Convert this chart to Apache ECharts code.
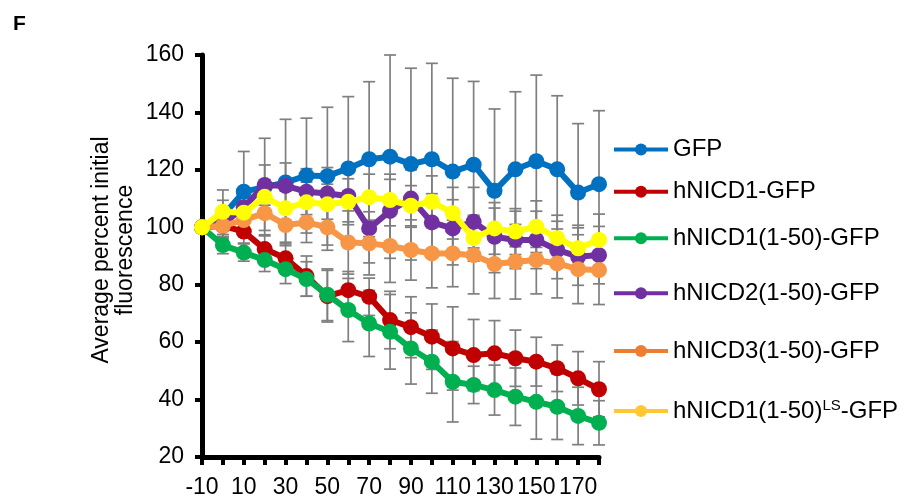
<!DOCTYPE html>
<html><head><meta charset="utf-8">
<script src="https://cdn.jsdelivr.net/npm/echarts@6/dist/echarts.min.js"></script>
<style>html,body{margin:0;padding:0;background:#fff}#c{width:904px;height:502px}</style>
</head><body><div id="c"></div>
<script>
const categories = ['-10','0','10','20','30','40','50','60','70','80','90','100','110','120','130','140','150','160','170','180'];
const yTicks = [20, 40, 60, 80, 100, 120, 140, 160];
const seriesNames = ['GFP','hNICD1-GFP','hNICD1(1-50)-GFP','hNICD2(1-50)-GFP','hNICD3(1-50)-GFP','hNICD1(1-50)LS-GFP'];

const gfp      = [100, 104, 112.4, 114, 115.6, 118, 117.8, 120.5, 123.7, 124.6, 122, 123.7, 119.4, 121.8, 112.7, 120.2, 123, 120.2, 112.1, 115];
const gfpErr   = [0, 9, 14, 17, 22, 20, 24, 25, 27, 35.4, 33.4, 33.4, 32.5, 29, 28.5, 27, 30, 25.6, 24, 25.6];
const nicd1    = [100, 100.5, 98.5, 92.4, 89.2, 83, 76, 78.1, 75.8, 67.7, 65.2, 61.9, 57.8, 55.5, 56.1, 54.4, 53.2, 50.9, 47.4, 43.6];
const nicd1Err = [0, 3, 4, 5, 5, 7, 9, 6.5, 6.5, 10, 10.6, 11.4, 14.5, 12.4, 11.4, 9.8, 8.5, 8.1, 9.3, 9.6];
const nicd1s   = [100, 93.8, 91.2, 88.6, 85.4, 82, 76.5, 71.2, 66.5, 63.6, 57.8, 53.2, 46.2, 45.1, 43.3, 41, 39.2, 37.5, 34.3, 31.9];
const nicd1sErr= [0, 3, 3, 4, 5, 6, 9, 11, 11.5, 13, 12.4, 11, 14, 6.5, 8.7, 10, 13, 11.4, 10, 7.7];
const nicd2    = [100, 101, 107, 114.7, 114.4, 112.4, 111.8, 110.9, 99.6, 105.7, 110, 101.7, 99.6, 101.9, 96.7, 95.6, 95.6, 92.1, 89.8, 90.3];
const nicd2Err = [0, 5, 6, 7, 8, 8, 9, 9, 12, 11, 10, 10, 10, 12, 10, 10, 10, 10, 10, 10];
const nicd3    = [100, 100.5, 102.5, 104.9, 100.8, 101.7, 100, 94.7, 94.4, 93.5, 92.1, 90.9, 90.9, 90.3, 87.2, 88, 88.6, 87.4, 85.4, 85.1];
const nicd3Err = [0, 4, 5, 6, 6, 7, 8, 11, 11, 12.7, 10.5, 12, 11.6, 13.5, 12, 13, 11.8, 12, 12, 12];
const nicd1ls  = [100, 105.4, 105.1, 110.6, 106.6, 108.7, 108, 108.9, 110.5, 109.5, 107.5, 108.9, 104.9, 96.2, 99.6, 98.5, 100.2, 96.2, 92.7, 95.6];
const nicd1lsErr=[0, 4, 5, 6, 6, 7, 7, 8, 8, 9, 7, 9, 9, 8, 9, 8, 9, 8, 8, 9];

const lineColors   = ['#0070C0','#C00000','#00B050','#7030A0','#F79646','#FFFF00'];
const legendColors = ['#0070C0','#C00000','#00B050','#7030A0','#ED7D31','#FFC832'];
const legendCenters = [149.5, 191.7, 238.3, 293.3, 351, 410];

const means = [gfp, nicd1, nicd1s, nicd2, nicd3, nicd1ls];
const errs  = [gfpErr, nicd1Err, nicd1sErr, nicd2Err, nicd3Err, nicd1lsErr];

const FONT = 'Arial, "Liberation Sans", Helvetica, sans-serif';

function errRender(params, api) {
  const i = api.value(0), lo = api.value(1), hi = api.value(2);
  if (hi - lo < 0.01) return null;
  const p1 = api.coord([i, lo]), p2 = api.coord([i, hi]);
  const w = 6;
  const st = { stroke: '#7F7F7F', lineWidth: 1.7 };
  return { type: 'group', children: [
    { type: 'line', shape: { x1: p1[0], y1: p1[1], x2: p2[0], y2: p2[1] }, style: st },
    { type: 'line', shape: { x1: p1[0]-w, y1: p1[1], x2: p1[0]+w, y2: p1[1] }, style: st },
    { type: 'line', shape: { x1: p2[0]-w, y1: p2[1], x2: p2[0]+w, y2: p2[1] }, style: st }
  ]};
}

const series = [];
means.forEach((m, k) => {
  series.push({
    type: 'custom', name: seriesNames[k] + ' err', renderItem: errRender, z: 1,
    encode: { x: 0, y: [1, 2] }, silent: true,
    data: m.map((v, i) => [i, v - errs[k][i], v + errs[k][i]])
  });
});
means.forEach((m, k) => {
  series.push({
    type: 'line', name: seriesNames[k], data: m, z: 3 + k,
    symbol: 'circle', symbolSize: 16, showSymbol: true, showAllSymbol: true,
    lineStyle: { color: lineColors[k], width: 6 },
    itemStyle: { color: lineColors[k] }
  });
});

const legends = seriesNames.map((n, k) => ({
  orient: 'vertical', left: 612, top: legendCenters[k] - 12, padding: 0,
  itemWidth: 54, itemHeight: 15, selectedMode: false,
  data: [{ name: n, itemStyle: { color: legendColors[k] }, lineStyle: { color: legendColors[k], width: 4 } }],
  formatter: function (name) {
    if (name === 'hNICD1(1-50)LS-GFP') return '{n|hNICD1(1-50)}{s|LS}{n|-GFP}';
    return name;
  },
  textStyle: {
    fontSize: 24, color: '#000', fontFamily: FONT,
    rich: {
      n: { fontSize: 24, fontFamily: FONT, color: '#000', lineHeight: 26 },
      s: { fontSize: 15, fontFamily: FONT, color: '#000', verticalAlign: 'top', lineHeight: 26 }
    }
  }
}));

const chart = echarts.init(document.getElementById('c'), null, { renderer: 'canvas' });
chart.setOption({
  animation: false,
  backgroundColor: '#fff',
  grid: { left: 202, right: 305, top: 55, bottom: 45, containLabel: false },
  legend: legends,
  xAxis: {
    type: 'category', data: categories, boundaryGap: false,
    axisLine: { show: true, onZero: false, lineStyle: { color: '#000', width: 5 } },
    axisTick: { show: true, interval: 0, length: 8, inside: false, lineStyle: { color: '#000', width: 4 } },
    axisLabel: { interval: 1, margin: 19, fontSize: 23, color: '#000', fontFamily: FONT },
    splitLine: { show: false }
  },
  yAxis: {
    type: 'value', min: yTicks[0], max: yTicks[yTicks.length-1], interval: 20,
    axisLine: { show: true, onZero: false, lineStyle: { color: '#000', width: 5 } },
    axisTick: { show: true, length: 7, inside: false, lineStyle: { color: '#000', width: 4 } },
    axisLabel: { margin: 18, fontSize: 23, color: '#000', fontFamily: FONT },
    splitLine: { show: false }
  },
  graphic: [
    { type: 'text', left: 13, top: 14, style: { text: 'F', font: 'bold 21px ' + FONT, fill: '#000' } },
    { type: 'text', x: 114, y: 250, rotation: Math.PI / 2,
      style: { text: 'Average percent initial\nfluorescence', font: '23px ' + FONT, fill: '#000',
               align: 'center', verticalAlign: 'middle', textAlign: 'center', textVerticalAlign: 'middle', lineHeight: 24 } }
  ],
  series: series
});
</script>
</body></html>
